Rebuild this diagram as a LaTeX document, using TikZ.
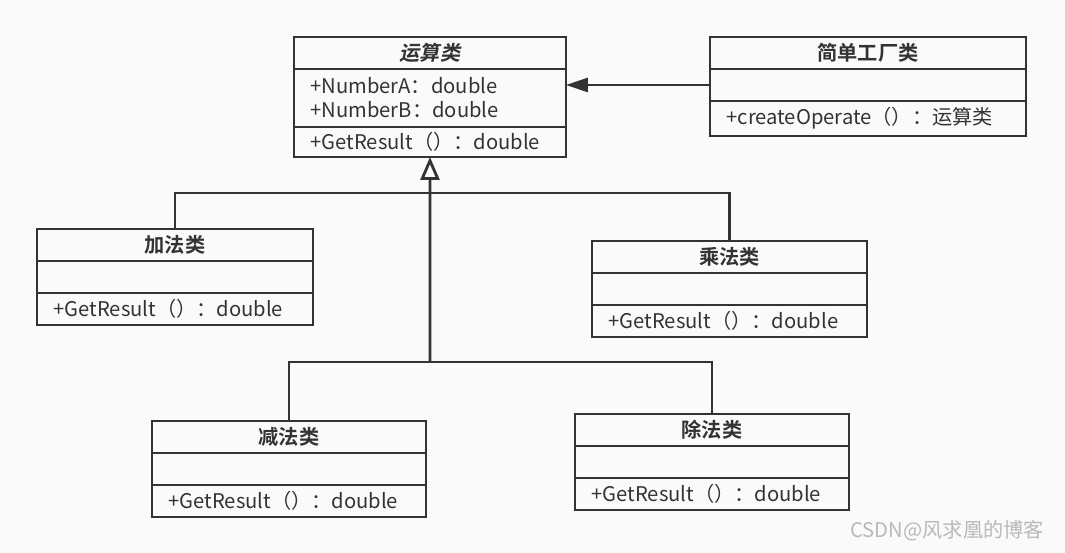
\documentclass[tikz,border=0pt]{standalone}
\usepackage{fontspec}
\setmainfont{Noto Sans CJK SC}[BoldFont={* Bold},
  ItalicFont={*}, ItalicFeatures={FakeSlant=0.2},
  BoldItalicFont={* Bold}, BoldItalicFeatures={FakeSlant=0.2}]
\usetikzlibrary{positioning,arrows.meta}
\definecolor{umlline}{HTML}{333333}
\definecolor{umlbg}{HTML}{FAFAFA}

\begin{document}
\begin{tikzpicture}[x=0.02cm,y=-0.02cm,
    every node/.style={font=\fontsize{11.5}{13.6}\selectfont, text=umlline},
    cls/.style={draw=umlline, line width=1.6pt, outer sep=0pt, inner ysep=1pt,
      minimum width=#1, minimum height=0.64cm},
    clsname/.style={cls=#1, font=\fontsize{11.5}{13.6}\selectfont\bfseries},
    clsbody/.style={cls=#1, inner xsep=0.33cm, text width=#1-0.66cm, align=left},
    link/.style={draw=umlline, line width=1.6pt}]
      \useasboundingbox[fill=umlbg] (0,0) rectangle (1065,553);
      \node[clsname=5.44cm, anchor=north west] (opname) at (294,37) {\textit{运算类}};
      \node[clsbody=5.44cm, minimum height=1.16cm, below=0pt of opname] (opattr)
      {+NumberA：double\\+NumberB：double};
      \node[clsbody=5.44cm, minimum height=0.6cm, below=0pt of opattr] (opmeth)
      {+GetResult（）：double};
      %
      \node[clsname=6.32cm, anchor=north west] (facname) at (710,37) {简单工厂类};
      \node[clsbody=6.32cm, below=0pt of facname] (facattr) {};
      \node[clsbody=6.32cm, minimum height=0.7cm, below=0pt of facattr] (facmeth)
      {+createOperate（）：运算类};
      %
      \node[clsname=5.52cm, anchor=north west] (addname) at (37,229) {加法类};
      \node[clsbody=5.52cm, below=0pt of addname] (addattr) {};
      \node[clsbody=5.52cm, below=0pt of addattr] (addmeth) {+GetResult（）：double};
      \node[clsname=5.5cm, anchor=north west] (mulname) at (592,241) {乘法类};
      \node[clsbody=5.5cm, below=0pt of mulname] (mulattr) {};
      \node[clsbody=5.5cm, below=0pt of mulattr] (mulmeth) {+GetResult（）：double};
      \node[clsname=5.48cm, anchor=north west] (subname) at (152,421) {减法类};
      \node[clsbody=5.48cm, below=0pt of subname] (subattr) {};
      \node[clsbody=5.48cm, below=0pt of subattr] (submeth) {+GetResult（）：double};
      \node[clsname=5.48cm, anchor=north west] (divname) at (575,414) {除法类};
      \node[clsbody=5.48cm, below=0pt of divname] (divattr) {};
      \node[clsbody=5.48cm, below=0pt of divattr] (divmeth) {+GetResult（）：double};
      %
      \coordinate (upbus) at (430,193);
      \coordinate (lowbus) at (430,362);
      \draw[link] (addname.north) |- (upbus) -| (mulname.north);
      \draw[link] (subname.north) |- (lowbus) -| (divname.north);
      \draw[link, -{Triangle[open,length=0.46cm,width=0.38cm]}] (lowbus) -- (opmeth.south);
      \draw[link, -{Triangle[length=0.44cm,width=0.28cm]}] (facattr.west) --
      (facattr.west -| opattr.east);
      %
      \node[text=gray!55, anchor=east] (mark) at (1050,531) {CSDN@风求凰的博客};
    \end{tikzpicture}
\end{document}
